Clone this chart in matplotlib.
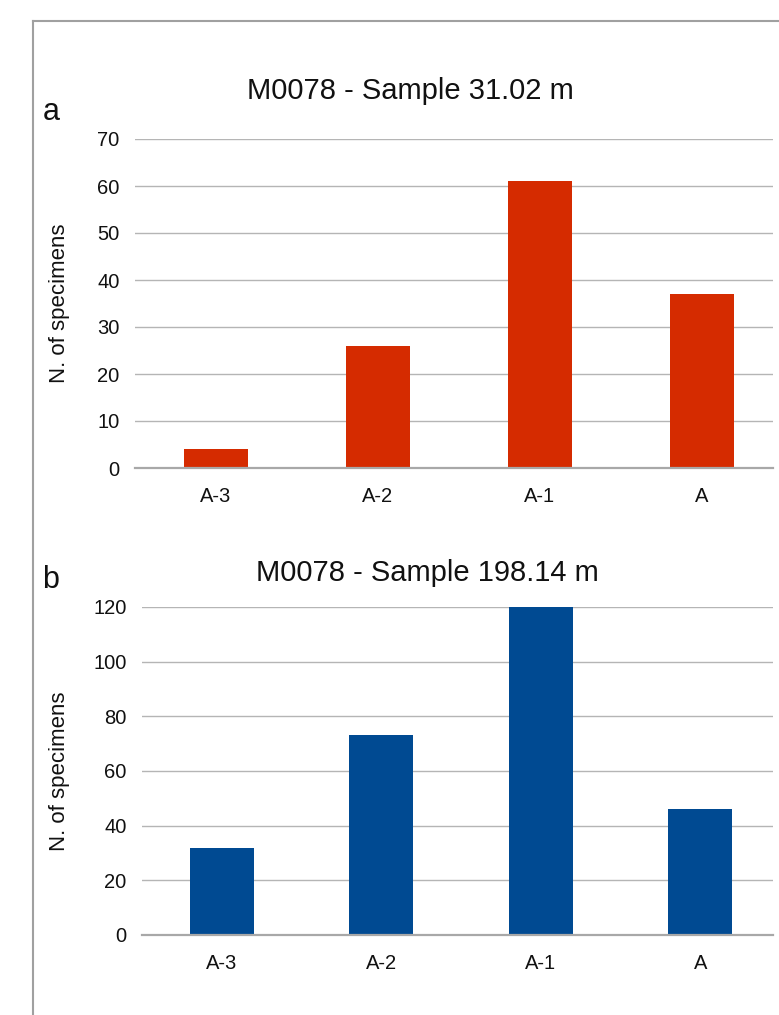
import matplotlib
matplotlib.use("Agg")
import matplotlib.pyplot as plt
from matplotlib.lines import Line2D

plt.rcParams['font.family'] = ['Liberation Sans', 'DejaVu Sans']

categories = ["A-3", "A-2", "A-1", "A"]
counts_a = [4, 26, 61, 37]
counts_b = [32, 73, 120, 46]
title_a = "M0078 - Sample 31.02 m"
title_b = "M0078 - Sample 198.14 m"
yticks_a = [0, 10, 20, 30, 40, 50, 60, 70]
yticks_b = [0, 20, 40, 60, 80, 100, 120]

TICK = 14.5
YLAB = 16
TITLE = 21
LETTER = 22

W, H = 779, 1015
fig = plt.figure(figsize=(W / 100, H / 100), dpi=100)

def fx(px):
    return px / W

def fy(py):
    return 1 - py / H

def panel(left, right, top, bottom, xmax, values, yticks, color, ylab_x):
    ax = fig.add_axes([fx(left), fy(bottom), fx(right) - fx(left), fy(top) - fy(bottom)])
    x = list(range(len(categories)))
    ax.bar(x, values, width=0.4, color=color, zorder=3)
    ax.set_xlim(-0.5, xmax)
    ax.set_ylim(yticks[0], yticks[-1])
    ax.set_yticks(yticks)
    ax.set_xticks(x)
    ax.set_xticklabels(categories)
    ax.tick_params(axis='both', length=0, labelsize=TICK, colors='#111111')
    ax.tick_params(axis='y', pad=11)
    ax.tick_params(axis='x', pad=14)
    for s in ax.spines.values():
        s.set_visible(False)
    for t in yticks[1:]:
        ax.axhline(t, color='#b5b5b5', linewidth=1.0, zorder=1)
    ax.axhline(yticks[0], color='#a8a8a8', linewidth=1.6, zorder=4, clip_on=False)
    ax.set_ylabel("N. of specimens", fontsize=YLAB, color='#111111', va='center')
    ax.yaxis.set_label_coords((ylab_x - left) / (right - left), 0.5)
    return ax

ax_a = panel(135, 773, 139, 468, -0.5 + 638 / 162, counts_a, yticks_a, '#d52b00', 60)
ax_b = panel(142, 773, 607, 935, -0.5 + 631 / 159.5, counts_b, yticks_b, '#004a92', 60)

fig.text(fx(410), fy(91), title_a, fontsize=TITLE, ha='center', va='center', color='#111111')
fig.text(fx(427), fy(573), title_b, fontsize=TITLE, ha='center', va='center', color='#111111')
fig.text(fx(51), fy(112), "a", fontsize=LETTER, ha='center', va='center', color='#111111')
fig.text(fx(51), fy(580), "b", fontsize=LETTER, ha='center', va='center', color='#111111')

fig.add_artist(Line2D([fx(33), fx(33)], [fy(21), fy(1015)], color='#a0a0a0', linewidth=1.5))
fig.add_artist(Line2D([fx(33), fx(779)], [fy(21), fy(21)], color='#a0a0a0', linewidth=1.5))

fig.savefig("out.png", dpi=100)
